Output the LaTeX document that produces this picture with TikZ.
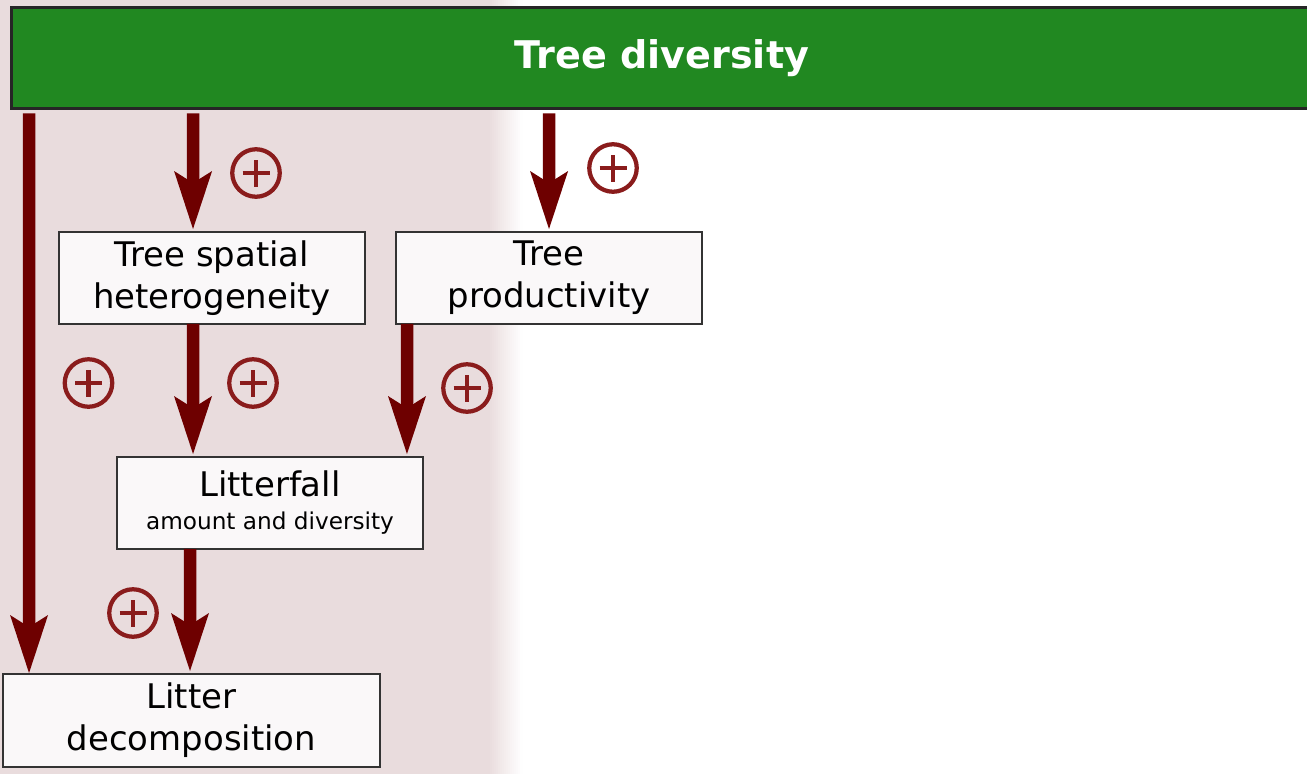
\documentclass[tikz,border=0pt]{standalone}
\usepackage{fontspec}
\setmainfont{DejaVu Sans}
\usepackage{xcolor}
\usepackage{tikz}
\usetikzlibrary{positioning,arrows.meta}

\definecolor{forest}{HTML}{218821}
\definecolor{maroon}{RGB}{110,0,0}
\definecolor{posred}{HTML}{8A1C1C}
\definecolor{panel}{HTML}{E9DCDD}
\definecolor{boxfill}{HTML}{FAF8F9}

\begin{document}
\begin{tikzpicture}[
  x=0.02cm, y=-0.02cm,
  topbar/.style={draw=black!85, line width=0.07cm, fill=forest, text=white, minimum width=26.02cm, minimum height=2.02cm, outer sep=0pt, font=\bfseries\fontsize{21.7}{26}\selectfont},
  box/.style={draw=black!80, line width=0.05cm, fill=boxfill, align=center, minimum width=6.12cm, minimum height=1.84cm, inner sep=2pt, outer sep=0pt, font=\fontsize{19.3}{23.8}\selectfont},
  arr/.style={draw=maroon, line width=0.25cm, -{Stealth[length=1.16cm, width=0.76cm, inset=0.24cm, line width=0pt]}},
  plussign/.style={circle, draw=posred, line width=0.085cm, minimum size=0.95cm, inner sep=0pt,
    path picture={\draw[posred, line width=0.095cm]
      ([xshift=-0.27cm]path picture bounding box.center) -- ([xshift=0.27cm]path picture bounding box.center)
      ([yshift=-0.27cm]path picture bounding box.center) -- ([yshift=0.27cm]path picture bounding box.center);}}
]
\useasboundingbox (0,0) rectangle (1307,774);
\fill[panel] (0,0) rectangle (490,774);
\foreach \i in {1,...,16}{
  \pgfmathtruncatemacro{\p}{100-6*\i}
  \fill[panel!\p!white] (488+2*\i,0) rectangle (490.5+2*\i,774);
}

\node[topbar] (diversity) at (662,58) {Tree diversity};
\node[box] (spatial) at (212,278) {Tree spatial\\heterogeneity};
\node[box] (product) at (549,278) {Tree\\productivity};
\node[box] (litterfall) at (270,503) {Litterfall\\[-5pt]{\fontsize{13.2}{16}\selectfont amount and diversity}};
\node[box, minimum width=7.54cm, minimum height=1.86cm] (decomp) at (191.5,720.5) {Litter\\decomposition};

\node[plussign] (p1) at (256,173) {};
\node[plussign] (p2) at (613,168) {};
\node[plussign] (p3) at (88.5,383) {};
\node[plussign] (p4) at (253,383) {};
\node[plussign] (p5) at (467,388) {};
\node[plussign] (p6) at (133,613) {};

\draw[arr, shorten <=0.1cm, shorten >=0.02cm] ([shift={(17.5,0)}]diversity.south west) -- ([shift={(26,0)}]decomp.north west);
\draw[arr, shorten <=0.1cm, shorten >=0.06cm] ([shift={(181.5,0)}]diversity.south west) -- ([shift={(-19,0)}]spatial.north);
\draw[arr, shorten <=0.1cm, shorten >=0.06cm] ([shift={(537.5,0)}]diversity.south west) -- (product.north);
\draw[arr, shorten >=0.06cm] ([shift={(-19,0)}]spatial.south) -- ([shift={(76,0)}]litterfall.north west);
\draw[arr, shorten >=0.06cm] ([shift={(11,0)}]product.south west) -- ([shift={(-16,0)}]litterfall.north east);
\draw[arr, shorten >=0.06cm] ([shift={(73,0)}]litterfall.south west) -- ([shift={(-1.5,0)}]decomp.north);
\end{tikzpicture}
\end{document}
